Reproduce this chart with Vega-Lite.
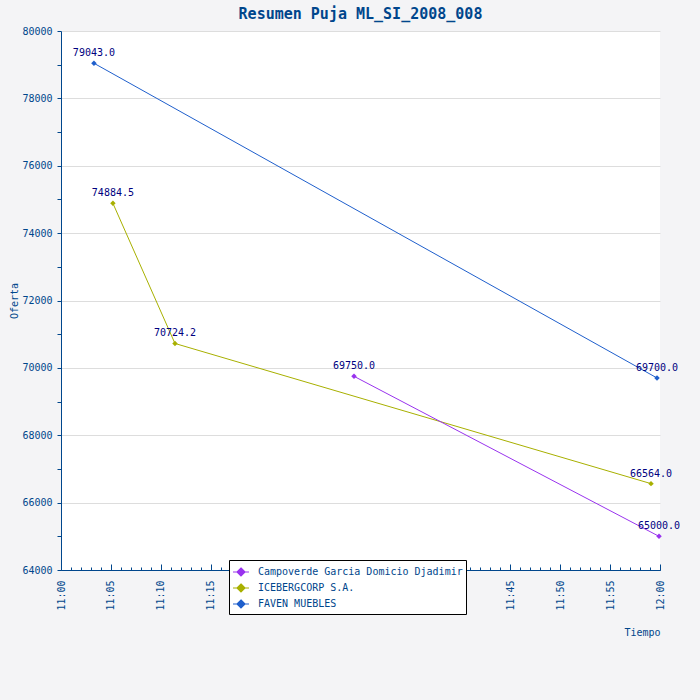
{
  "$schema": "https://vega.github.io/schema/vega-lite/v6.json",
  "autosize": "none",
  "width": 599,
  "height": 539,
  "padding": {"left": 61, "top": 31, "right": 40, "bottom": 130},
  "background": "#F4F4F6",
  "title": {
    "text": "Resumen Puja ML_SI_2008_008",
    "font": "DejaVu Sans Mono",
    "fontSize": 15,
    "fontWeight": "bold",
    "color": "#00468C",
    "anchor": "middle",
    "offset": 4
  },
  "config": {
    "view": {"fill": "white", "stroke": null},
    "font": "DejaVu Sans Mono"
  },
  "data": {
    "values": [
      {"bidder": "FAVEN MUEBLES", "time": "2008-01-01T11:03:18", "offer": 79043.0},
      {"bidder": "FAVEN MUEBLES", "time": "2008-01-01T11:59:42", "offer": 69700.0},
      {"bidder": "ICEBERGCORP S.A.", "time": "2008-01-01T11:05:12", "offer": 74884.5},
      {"bidder": "ICEBERGCORP S.A.", "time": "2008-01-01T11:11:25", "offer": 70724.2},
      {"bidder": "ICEBERGCORP S.A.", "time": "2008-01-01T11:59:06", "offer": 66564.0},
      {"bidder": "Campoverde Garcia Domicio Djadimir", "time": "2008-01-01T11:29:21", "offer": 69750.0},
      {"bidder": "Campoverde Garcia Domicio Djadimir", "time": "2008-01-01T11:59:54", "offer": 65000.0}
    ]
  },
  "encoding": {
    "y": {
      "field": "offer",
      "type": "quantitative",
      "title": "Oferta",
      "scale": {"domain": [64000, 80000], "nice": false, "zero": false},
      "axis": {
        "values": [64000, 65000, 66000, 67000, 68000, 69000, 70000, 71000, 72000, 73000, 74000, 75000, 76000, 77000, 78000, 79000, 80000],
        "labelExpr": "datum.value % 2000 === 0 ? format(datum.value, 'd') : ''",
        "labelFont": "DejaVu Sans Mono",
        "labelFontSize": 10,
        "labelColor": "#00468C",
        "labelPadding": 5,
        "tickSize": 4,
        "tickColor": "#00468C",
        "domainColor": "#00468C",
        "gridColor": "#DDDDDD",
        "gridOpacity": {"condition": {"test": "datum.value % 2000 !== 0", "value": 0}, "value": 1},
        "titleFont": "DejaVu Sans Mono",
        "titleFontSize": 10,
        "titleFontWeight": "normal",
        "titleColor": "#00468C",
        "titleX": -47,
        "titleY": 269.5,
        "titleAlign": "center",
        "titleBaseline": "middle"
      }
    },
    "color": {
      "field": "bidder",
      "type": "nominal",
      "scale": {
        "domain": ["Campoverde Garcia Domicio Djadimir", "ICEBERGCORP S.A.", "FAVEN MUEBLES"],
        "range": ["#9933EE", "#A8B000", "#1F5FCC"]
      },
      "legend": {
        "title": null,
        "orient": "none",
        "legendX": 168,
        "legendY": 529,
        "direction": "vertical",
        "fillColor": "white",
        "strokeColor": "black",
        "padding": 3,
        "rowPadding": 0,
        "symbolType": "M-1,0L1,0M0,-0.5L0.5,0L0,0.5L-0.5,0Z",
        "symbolSize": 256,
        "symbolStrokeWidth": 1.2,
        "labelFont": "DejaVu Sans Mono",
        "labelFontSize": 10,
        "labelColor": "#00468C",
        "labelOffset": 8,
        "labelLimit": 400
      }
    }
  },
  "layer": [
    {
      "mark": {"type": "line", "strokeWidth": 1},
      "encoding": {
        "x": {
          "field": "time",
          "type": "temporal",
          "title": "Tiempo",
          "scale": {
            "domain": [
              {"year": 2008, "month": 1, "date": 1, "hours": 11, "minutes": 0},
              {"year": 2008, "month": 1, "date": 1, "hours": 12, "minutes": 0}
            ]
          },
          "axis": {
            "orient": "bottom",
            "tickCount": 12,
            "format": "%H:%M",
            "labelAngle": -90,
            "labelFont": "DejaVu Sans Mono",
            "labelFontSize": 10,
            "labelColor": "#00468C",
            "labelPadding": 16,
            "labelFlush": false,
            "labelOverlap": false,
            "domainColor": "#00468C",
            "tickColor": "#00468C",
            "tickSize": -6,
            "grid": false,
            "titleFont": "DejaVu Sans Mono",
            "titleFontSize": 10,
            "titleFontWeight": "normal",
            "titleColor": "#00468C",
            "titleAlign": "right",
            "titleAnchor": "end",
            "titleX": 599,
            "titleY": 65,
            "titleBaseline": "alphabetic"
          }
        }
      }
    },
    {
      "mark": {"type": "point", "shape": "diamond", "filled": true, "size": 30, "opacity": 1},
      "encoding": {
        "x": {
          "field": "time",
          "type": "temporal",
          "axis": {
            "orient": "bottom",
            "tickCount": 60,
            "labels": false,
            "domain": false,
            "grid": false,
            "tickColor": "#00468C",
            "tickSize": -3,
            "title": null
          }
        }
      }
    },
    {
      "mark": {"type": "text", "dy": -10, "font": "DejaVu Sans Mono", "fontSize": 10},
      "encoding": {
        "x": {"field": "time", "type": "temporal", "axis": null},
        "text": {"field": "offer", "type": "quantitative", "format": ".1f"},
        "color": {"value": "#000080"}
      }
    }
  ],
  "resolve": {"axis": {"x": "independent"}}
}
